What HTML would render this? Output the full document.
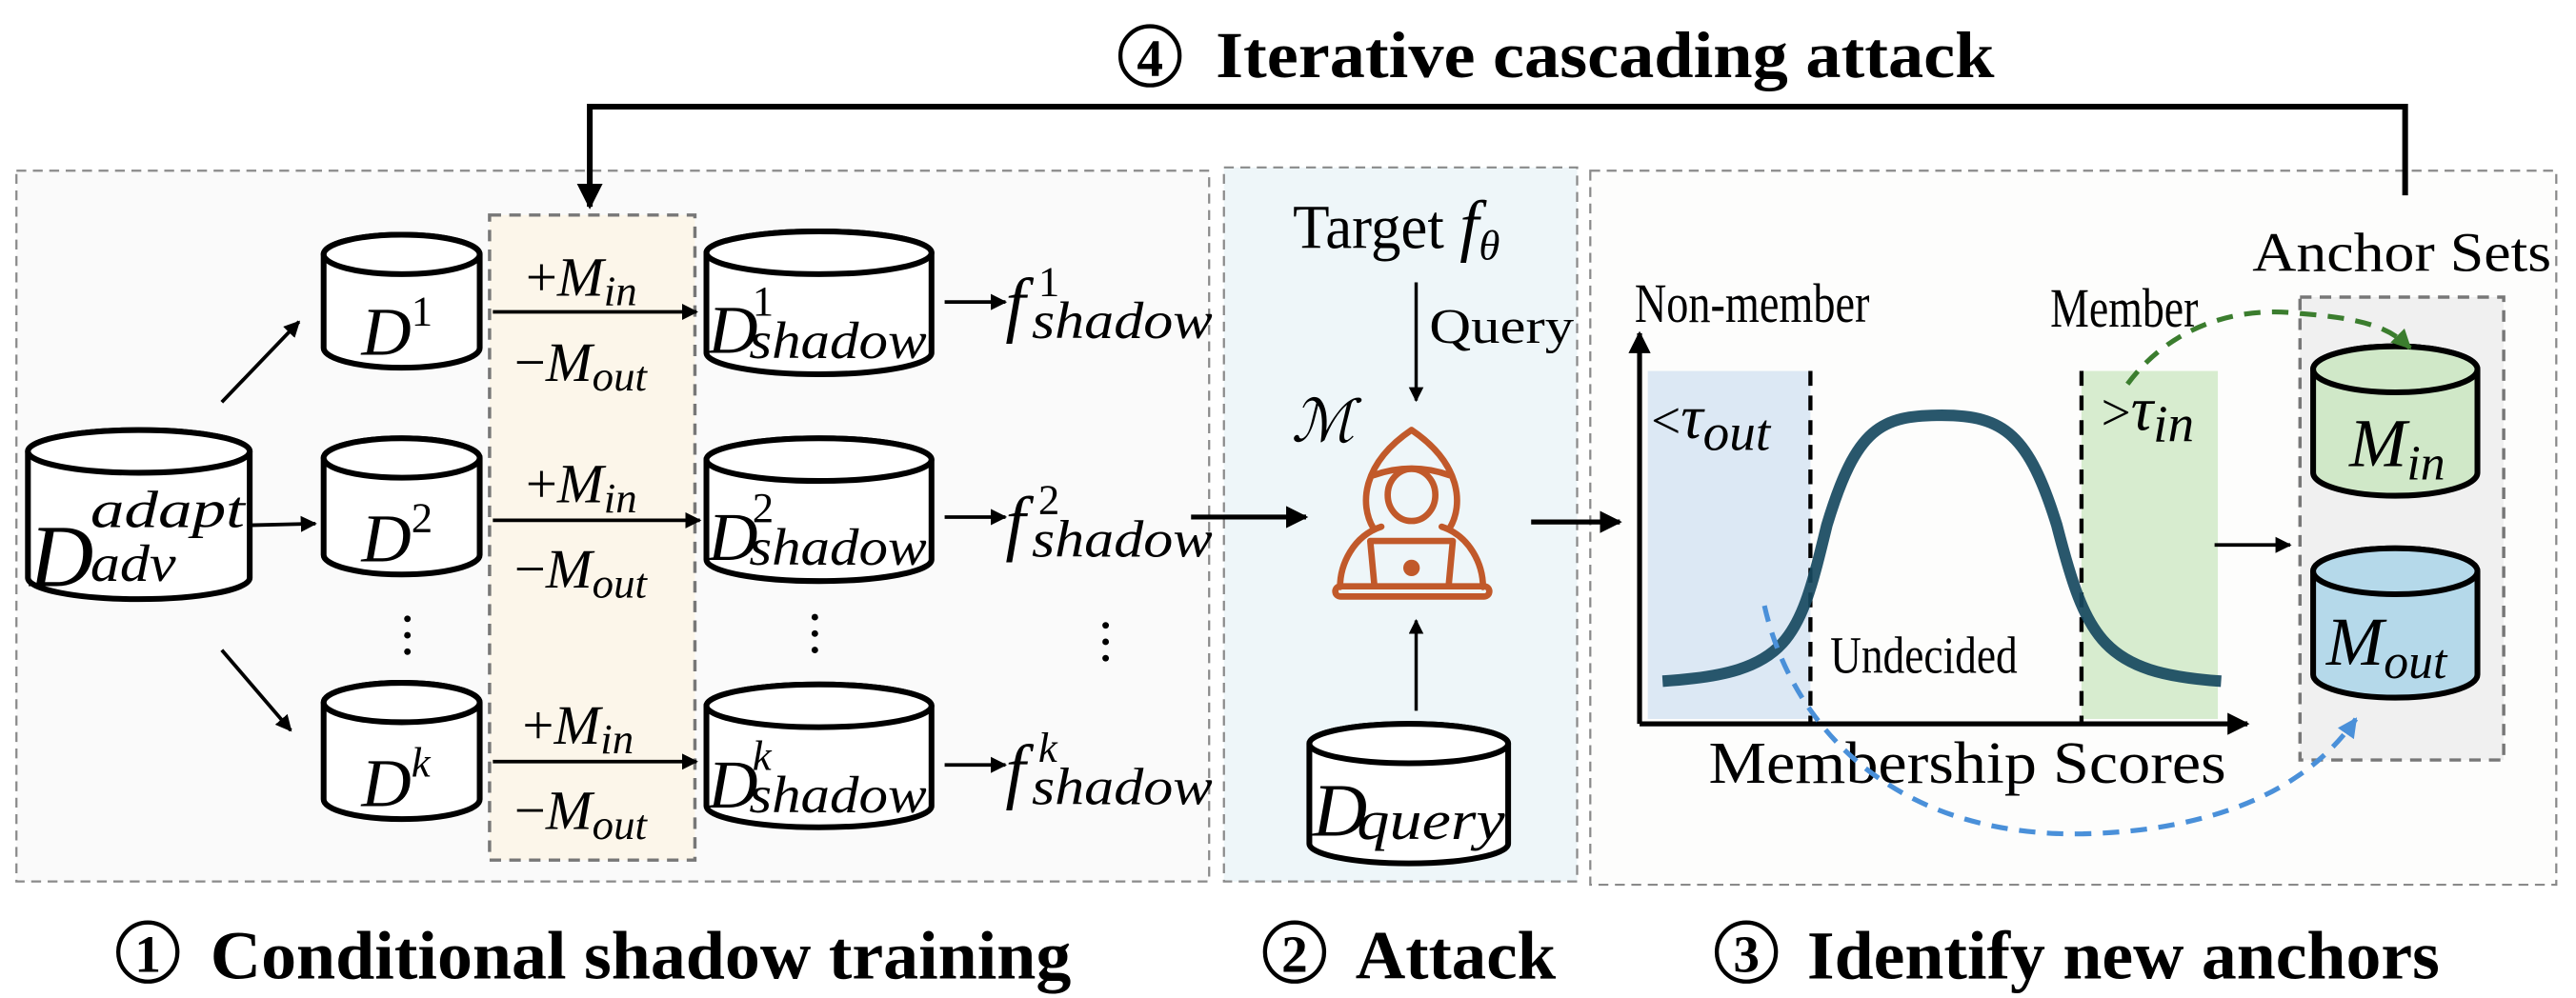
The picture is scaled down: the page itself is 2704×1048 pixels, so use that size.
<!DOCTYPE html>
<html><head><meta charset="utf-8"><style>
html,body{margin:0;padding:0;background:#fff;}
svg{display:block;}
text{font-family:"Liberation Serif",serif;fill:#000;}
.it{font-style:italic;}
.b{font-weight:bold;}
</style></head><body>
<svg width="2704" height="1048" viewBox="0 0 1568 608" preserveAspectRatio="none" xmlns="http://www.w3.org/2000/svg">
<defs>
<marker id="ah" viewBox="0 0 10 10" refX="9" refY="5" markerWidth="4.5" markerHeight="4.5" orient="auto"><path d="M0,0 L10,5 L0,10 z" fill="#000"/></marker>
<marker id="ag" viewBox="0 0 10 10" refX="9" refY="5" markerWidth="4" markerHeight="4" orient="auto"><path d="M0,0 L10,5 L0,10 z" fill="#3b7d2e"/></marker>
<marker id="ab" viewBox="0 0 10 10" refX="9" refY="5" markerWidth="4" markerHeight="4" orient="auto"><path d="M0,0 L10,5 L0,10 z" fill="#4a90d9"/></marker>
</defs>

<rect x="10" y="104" width="726" height="433" fill="#fafafa" stroke="#8a8a8a" stroke-width="1.3" stroke-dasharray="6,4"/>
<rect x="745" y="102" width="215" height="435" fill="#eef6f9" stroke="#8a8a8a" stroke-width="1.3" stroke-dasharray="6,4"/>
<rect x="968" y="104" width="588" height="435" fill="#fdfdfc" stroke="#8a8a8a" stroke-width="1.3" stroke-dasharray="6,4"/>
<rect x="298" y="131" width="125" height="393" fill="#fcf6ea" stroke="#777" stroke-width="2" stroke-dasharray="7,5"/>

<circle cx="700" cy="34" r="18" fill="none" stroke="#000" stroke-width="2.5"/>
<text x="700" y="46" font-size="32" text-anchor="middle" class="b">4</text>
<text x="740" y="47" font-size="40" class="b" textLength="474" lengthAdjust="spacingAndGlyphs">Iterative cascading attack</text>

<path d="M1464,119 V65 H359 V126" fill="none" stroke="#000" stroke-width="3.5" marker-end="url(#ah)"/>

<g stroke="#000" stroke-width="3.5" fill="#fff">
<path d="M17,275 V352 A67.5,13 0 0 0 152,352 V275 A67.5,13 0 0 0 17,275 Z"/><ellipse cx="84.5" cy="275" rx="67.5" ry="13"/>
<path d="M197,155 V212 A47.5,12 0 0 0 292,212 V155 A47.5,12 0 0 0 197,155 Z"/><ellipse cx="244.5" cy="155" rx="47.5" ry="12"/>
<path d="M197,279 V338 A47.5,12 0 0 0 292,338 V279 A47.5,12 0 0 0 197,279 Z"/><ellipse cx="244.5" cy="279" rx="47.5" ry="12"/>
<path d="M197,428 V487 A47.5,12 0 0 0 292,487 V428 A47.5,12 0 0 0 197,428 Z"/><ellipse cx="244.5" cy="428" rx="47.5" ry="12"/>
<path d="M430,154 V215 A68.5,13 0 0 0 567,215 V154 A68.5,13 0 0 0 430,154 Z"/><ellipse cx="498.5" cy="154" rx="68.5" ry="13"/>
<path d="M430,280 V341 A68.5,13 0 0 0 567,341 V280 A68.5,13 0 0 0 430,280 Z"/><ellipse cx="498.5" cy="280" rx="68.5" ry="13"/>
<path d="M430,430 V491 A68.5,13 0 0 0 567,491 V430 A68.5,13 0 0 0 430,430 Z"/><ellipse cx="498.5" cy="430" rx="68.5" ry="13"/>
<path d="M797,453 V514 A60.5,12 0 0 0 918,514 V453 A60.5,12 0 0 0 797,453 Z"/><ellipse cx="857.5" cy="453" rx="60.5" ry="12"/>
</g>
<rect x="1400" y="181" width="124" height="282" fill="#f0f0f0" stroke="#777" stroke-width="2" stroke-dasharray="7,5"/>
<g stroke="#000" stroke-width="3.5">
<path d="M1408,225 V288 A50,14 0 0 0 1508,288 V225 A50,14 0 0 0 1408,225 Z" fill="#d0e8c8"/><ellipse cx="1458" cy="225" rx="50" ry="14" fill="#d0e8c8"/>
<path d="M1408,348 V411 A50,14 0 0 0 1508,411 V348 A50,14 0 0 0 1408,348 Z" fill="#b5d9ea"/><ellipse cx="1458" cy="348" rx="50" ry="14" fill="#b5d9ea"/>
</g>

<!-- cylinder labels -->
<text x="18" y="357" font-size="54" class="it">D</text>
<text x="55" y="321" font-size="32" class="it" textLength="94" lengthAdjust="spacingAndGlyphs">adapt</text>
<text x="55" y="354" font-size="32" class="it" textLength="52" lengthAdjust="spacingAndGlyphs">adv</text>
<text x="220" y="216" font-size="42" class="it">D<tspan font-size="26" font-style="normal" dy="-18">1</tspan></text>
<text x="220" y="342" font-size="42" class="it">D<tspan font-size="26" font-style="normal" dy="-18">2</tspan></text>
<text x="220" y="491" font-size="42" class="it">D<tspan font-size="26" dy="-18">k</tspan></text>
<g class="it">
<text x="431" y="215" font-size="42">D</text><text x="458" y="192" font-size="26" font-style="normal">1</text><text x="456" y="218" font-size="32" textLength="108" lengthAdjust="spacingAndGlyphs">shadow</text>
<text x="431" y="341" font-size="42">D</text><text x="458" y="318" font-size="26" font-style="normal">2</text><text x="456" y="344" font-size="32" textLength="108" lengthAdjust="spacingAndGlyphs">shadow</text>
<text x="431" y="492" font-size="42">D</text><text x="458" y="469" font-size="26">k</text><text x="456" y="495" font-size="32" textLength="108" lengthAdjust="spacingAndGlyphs">shadow</text>
</g>
<g class="it">
<text x="612" y="200" font-size="44">f</text><text x="632" y="180" font-size="26" font-style="normal">1</text><text x="628" y="206" font-size="32" textLength="110" lengthAdjust="spacingAndGlyphs">shadow</text>
<text x="612" y="333" font-size="44">f</text><text x="632" y="313" font-size="26" font-style="normal">2</text><text x="628" y="339" font-size="32" textLength="110" lengthAdjust="spacingAndGlyphs">shadow</text>
<text x="612" y="484" font-size="44">f</text><text x="632" y="464" font-size="26">k</text><text x="628" y="490" font-size="32" textLength="110" lengthAdjust="spacingAndGlyphs">shadow</text>
</g>
<text x="799" y="509" font-size="46" class="it">D</text>
<text x="826" y="511" font-size="34" class="it" textLength="90" lengthAdjust="spacingAndGlyphs">query</text>
<text x="1430" y="284" font-size="42" class="it">M<tspan font-size="30" dy="8">in</tspan></text>
<text x="1416" y="405" font-size="42" class="it">M<tspan font-size="30" dy="8">out</tspan></text>

<g font-size="34">
<text x="320" y="180"><tspan>+</tspan><tspan class="it">M</tspan><tspan class="it" font-size="26" dy="6">in</tspan></text>
<text x="313" y="232"><tspan>−</tspan><tspan class="it">M</tspan><tspan class="it" font-size="26" dy="6">out</tspan></text>
<text x="320" y="306"><tspan>+</tspan><tspan class="it">M</tspan><tspan class="it" font-size="26" dy="6">in</tspan></text>
<text x="313" y="358"><tspan>−</tspan><tspan class="it">M</tspan><tspan class="it" font-size="26" dy="6">out</tspan></text>
<text x="318" y="453"><tspan>+</tspan><tspan class="it">M</tspan><tspan class="it" font-size="26" dy="6">in</tspan></text>
<text x="313" y="505"><tspan>−</tspan><tspan class="it">M</tspan><tspan class="it" font-size="26" dy="6">out</tspan></text>
</g>

<g stroke="#000" stroke-width="2.2" fill="none" marker-end="url(#ah)">
<line x1="135" y1="245" x2="182" y2="196"/>
<line x1="152" y1="320" x2="192" y2="319"/>
<line x1="135" y1="396" x2="177" y2="445"/>
<line x1="300" y1="190" x2="424" y2="190"/>
<line x1="300" y1="317" x2="426" y2="317"/>
<line x1="300" y1="464" x2="424" y2="464"/>
<line x1="575" y1="184" x2="612" y2="184"/>
<line x1="575" y1="315" x2="612" y2="315"/>
<line x1="575" y1="466" x2="612" y2="466"/>
</g>
<line x1="725" y1="315" x2="795" y2="315" stroke="#000" stroke-width="3" marker-end="url(#ah)"/>
<g fill="#000">
<circle cx="248" cy="377" r="2"/><circle cx="248" cy="387" r="2"/><circle cx="248" cy="397" r="2"/>
<circle cx="496" cy="376" r="2"/><circle cx="496" cy="386" r="2"/><circle cx="496" cy="396" r="2"/>
<circle cx="673" cy="381" r="2"/><circle cx="673" cy="391" r="2"/><circle cx="673" cy="401" r="2"/>
</g>

<text x="787" y="151" font-size="38"><tspan textLength="92" lengthAdjust="spacingAndGlyphs">Target</tspan> <tspan class="it" font-size="42">f</tspan><tspan class="it" font-size="26" dy="7">θ</tspan></text>
<line x1="862" y1="172" x2="862" y2="244" stroke="#000" stroke-width="2" marker-end="url(#ah)"/>
<text x="870" y="209" font-size="30" textLength="88" lengthAdjust="spacingAndGlyphs">Query</text>
<text x="786" y="269" font-size="36" class="it" font-family="DejaVu Serif">ℳ</text>
<line x1="862" y1="433" x2="862" y2="378" stroke="#000" stroke-width="2" marker-end="url(#ah)"/>
<line x1="932" y1="318" x2="986" y2="318" stroke="#000" stroke-width="3" marker-end="url(#ah)"/>
<g transform="scale(0.57988) translate(1370,420) scale(0.33333)" fill="none" stroke="#c1592a" stroke-width="20" stroke-linecap="round" stroke-linejoin="round">
<path d="M215,405 C170,330 180,200 335,95 C490,200 500,330 455,405"/>
<path d="M215,238 Q335,195 455,238"/>
<ellipse cx="335" cy="300" rx="75" ry="82"/>
<path d="M240,400 C150,430 110,520 110,590"/>
<path d="M430,400 C520,430 560,520 560,590"/>
<path d="M218,585 L205,445 L465,445 L452,585"/>
<circle cx="335" cy="530" r="16" fill="#c1592a"/>
<rect x="95" y="588" width="485" height="32" rx="16"/>
</g>

<rect x="1003" y="226" width="99" height="212" fill="#dce8f4"/>
<rect x="1267" y="226" width="83" height="212" fill="#d7eccf"/>
<g stroke="#000" stroke-width="2.5" stroke-dasharray="9,6">
<line x1="1102" y1="226" x2="1102" y2="440"/>
<line x1="1267" y1="226" x2="1267" y2="440"/>
</g>
<path d="M1012,415 C1090,410 1095,390 1112,320 C1130,260 1145,253 1182,253 C1220,253 1235,265 1252,320 C1270,390 1280,410 1352,415" fill="none" stroke="#17495f" stroke-width="7" opacity="0.92"/>
<path d="M998,441 V203" stroke="#000" stroke-width="3" marker-end="url(#ah)"/>
<path d="M998,441 H1368" stroke="#000" stroke-width="3" marker-end="url(#ah)"/>
<text x="995" y="196" font-size="34" textLength="143" lengthAdjust="spacingAndGlyphs">Non-member</text>
<text x="1248" y="199" font-size="34" textLength="90" lengthAdjust="spacingAndGlyphs">Member</text>
<text x="1005" y="267" font-size="32">&lt;<tspan class="it" font-size="38">τ</tspan><tspan class="it" font-size="32" dy="7">out</tspan></text>
<text x="1279" y="262" font-size="32">&gt;<tspan class="it" font-size="38">τ</tspan><tspan class="it" font-size="32" dy="7">in</tspan></text>
<text x="1114" y="410" font-size="32" textLength="114" lengthAdjust="spacingAndGlyphs">Undecided</text>
<text x="1040" y="477" font-size="36" textLength="315" lengthAdjust="spacingAndGlyphs">Membership Scores</text>
<text x="1371" y="165" font-size="34" textLength="182" lengthAdjust="spacingAndGlyphs">Anchor Sets</text>
<line x1="1348" y1="332" x2="1394" y2="332" stroke="#000" stroke-width="2.2" marker-end="url(#ah)"/>
<path d="M1295,234 C1320,200 1360,186 1400,191 C1440,194 1455,200 1467,212" fill="none" stroke="#3b7d2e" stroke-width="3" stroke-dasharray="10,7" marker-end="url(#ag)"/>
<path d="M1074,369 C1090,440 1150,510 1268,508 C1350,506 1405,480 1434,438" fill="none" stroke="#4a90d9" stroke-width="3" stroke-dasharray="10,7" marker-end="url(#ab)"/>

<g class="b">
<circle cx="90" cy="580" r="18" fill="none" stroke="#000" stroke-width="2.5"/>
<text x="90" y="592" font-size="32" text-anchor="middle">1</text>
<text x="128" y="596" font-size="42" textLength="524" lengthAdjust="spacingAndGlyphs">Conditional shadow training</text>
<circle cx="788" cy="580" r="18" fill="none" stroke="#000" stroke-width="2.5"/>
<text x="788" y="592" font-size="32" text-anchor="middle">2</text>
<text x="825" y="596" font-size="42" textLength="122" lengthAdjust="spacingAndGlyphs">Attack</text>
<circle cx="1063" cy="580" r="18" fill="none" stroke="#000" stroke-width="2.5"/>
<text x="1063" y="592" font-size="32" text-anchor="middle">3</text>
<text x="1100" y="596" font-size="42" textLength="385" lengthAdjust="spacingAndGlyphs">Identify new anchors</text>
</g>
</svg>
</body></html>
